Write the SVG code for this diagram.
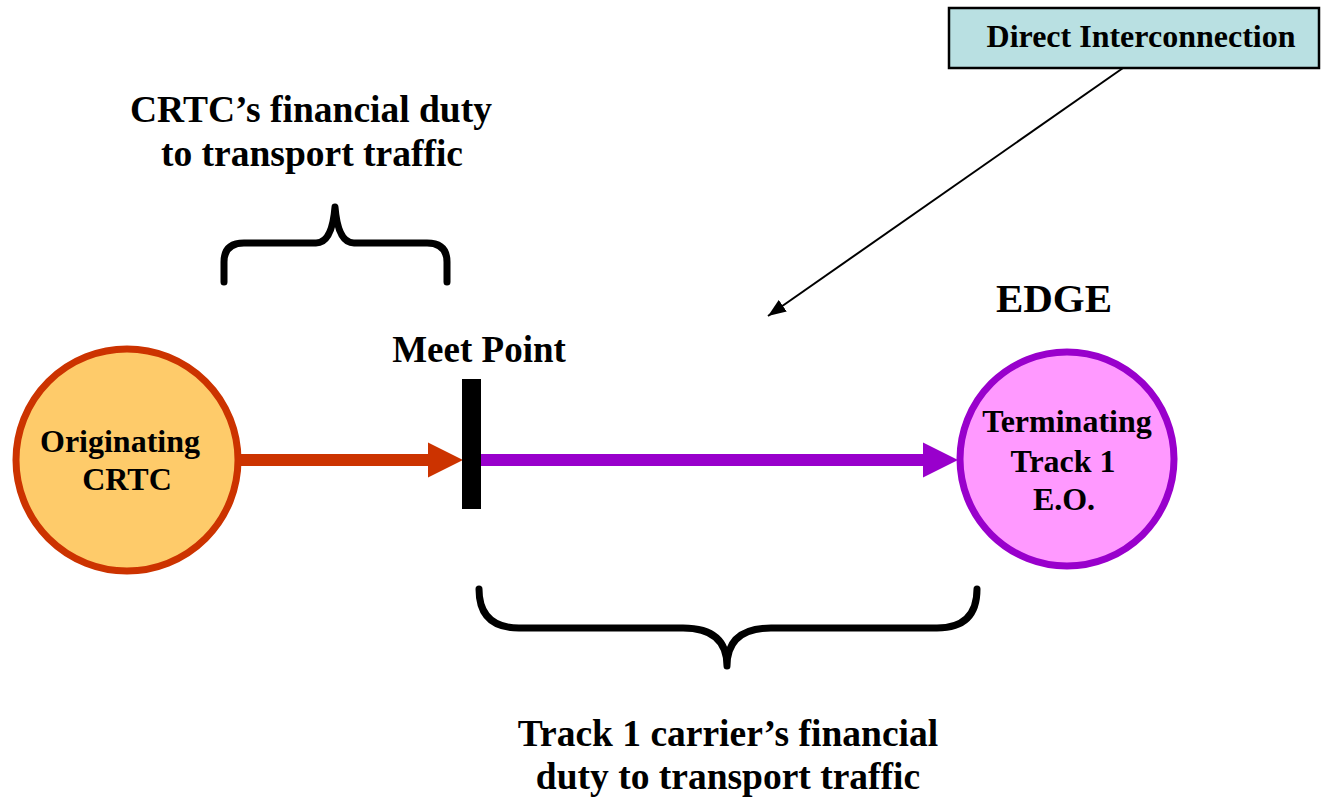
<svg xmlns="http://www.w3.org/2000/svg" width="1322" height="799" viewBox="0 0 1322 799">
<style>
text{font-family:"Liberation Serif","Times New Roman",serif;font-weight:bold;fill:#000;text-anchor:middle}
.brace{fill:none;stroke:#000;stroke-width:7;stroke-linecap:round;stroke-linejoin:round}
</style>
<defs>
<marker id="ah" markerWidth="20" markerHeight="14" refX="18" refY="7" orient="auto" markerUnits="userSpaceOnUse">
<path d="M0,0 L18,7 L0,14 Z" fill="#000"/>
</marker>
</defs>
<rect width="1322" height="799" fill="#fff"/>
<g id="connectors">
<line x1="240" y1="460" x2="430" y2="460" stroke="#CC3300" stroke-width="12"/>
<path d="M428,442.5 L463,460 L428,477.5 Z" fill="#CC3300"/>
<line x1="479" y1="460" x2="925" y2="460" stroke="#9900CC" stroke-width="12"/>
<path d="M923,442.5 L958,460 L923,477.5 Z" fill="#9900CC"/>
<line x1="1123" y1="68" x2="768" y2="316" stroke="#000" stroke-width="2" marker-end="url(#ah)"/>
</g>
<g id="meet-point">
<rect x="462" y="379" width="19" height="130" fill="#000"/>
<text x="479" y="362" font-size="37">Meet Point</text>
</g>
<g id="originating">
<circle cx="127" cy="460" r="111" fill="#FECB6A" stroke="#CC3300" stroke-width="7"/>
<text x="120" y="452" font-size="32">Originating</text>
<text x="127" y="490" font-size="32">CRTC</text>
</g>
<g id="terminating">
<circle cx="1067" cy="459" r="107" fill="#FF99FF" stroke="#9900CC" stroke-width="7"/>
<text x="1067" y="432" font-size="32">Terminating</text>
<text x="1063" y="472" font-size="32">Track 1</text>
<text x="1064" y="510" font-size="32">E.O.</text>
</g>
<g id="edge-label">
<text x="1054" y="312" font-size="41">EDGE</text>
</g>
<g id="direct-interconnection">
<rect x="949" y="8" width="370" height="60" fill="#B9E0E2" stroke="#000" stroke-width="2.5"/>
<text x="1141" y="47" font-size="32">Direct Interconnection</text>
</g>
<g id="crtc-duty">
<path class="brace" d="M224,282 L224,262 Q224,243 244,243 L316,243 Q332,243 335,207 Q338,243 354,243 L427,243 Q447,243 447,262 L447,282"/>
<text x="311" y="122" font-size="37.5">CRTC’s financial duty</text>
<text x="312" y="166" font-size="37.5">to transport traffic</text>
</g>
<g id="track1-duty">
<path class="brace" d="M479,589 Q479,628 519,628 L683,628 Q727,628 727,666 Q727,628 771,628 L937,628 Q977,628 977,589"/>
<text x="728" y="746" font-size="37.5">Track 1 carrier’s financial</text>
<text x="728" y="789" font-size="37.5">duty to transport traffic</text>
</g>
</svg>
